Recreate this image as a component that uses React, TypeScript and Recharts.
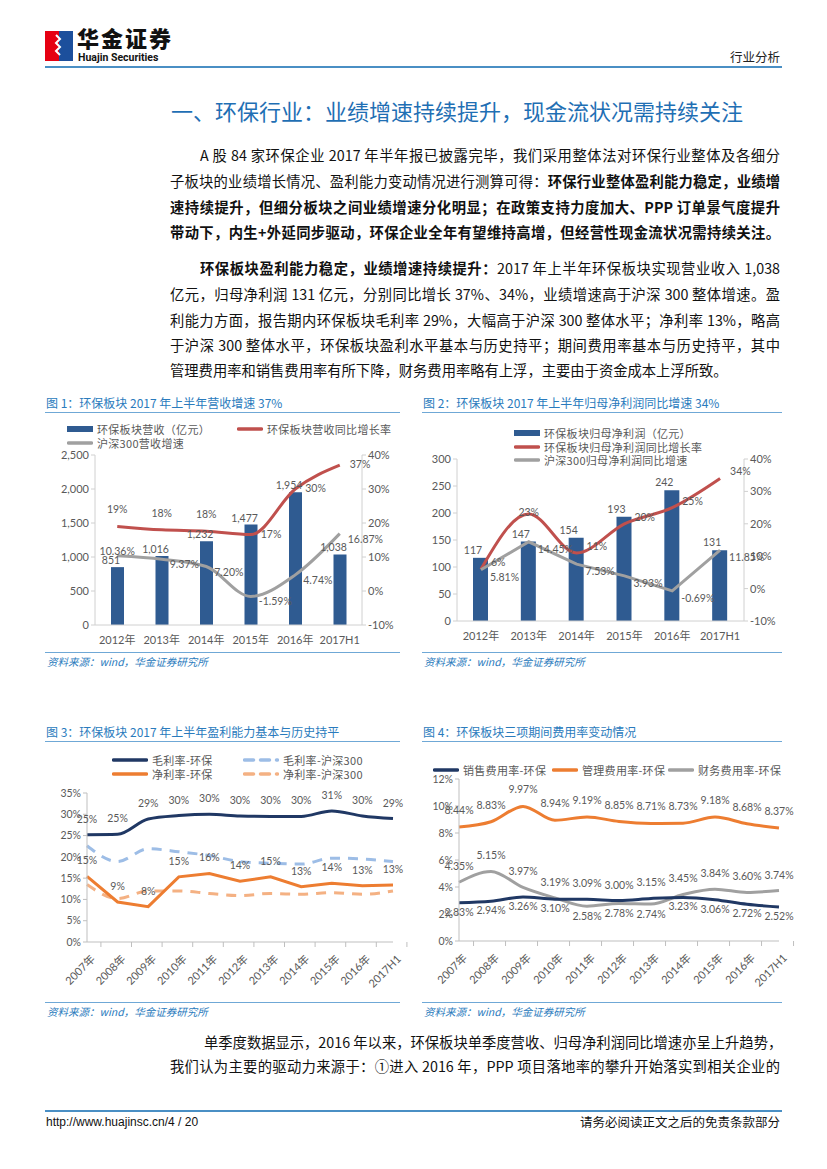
import React from 'react';
import { ComposedChart, LineChart, Bar, Line, XAxis, YAxis, LabelList } from 'recharts';

// ---------- data ----------
const years1 = ['2012年', '2013年', '2014年', '2015年', '2016年', '2017H1'];
const revenue = [851, 1016, 1232, 1477, 1954, 1038];
const revenueGrowth = [19, 18, 17.6, 16.6, 30, 37];
const hs300RevenueGrowth = [10.36, 9.37, 7.2, -1.59, 4.74, 16.87];
const revTicks = [0, 500, 1000, 1500, 2000, 2500];
const pctTicks = [-10, 0, 10, 20, 30, 40];

const netProfit = [117, 147, 154, 193, 242, 131];
const netProfitGrowth = [6, 23, 11, 20, 25, 34];
const hs300ProfitGrowth = [5.81, 14.45, 7.53, 3.93, -0.69, 11.85];
const profitTicks = [0, 50, 100, 150, 200, 250, 300];

const years2 = ['2007年', '2008年', '2009年', '2010年', '2011年', '2012年', '2013年', '2014年', '2015年', '2016年', '2017H1'];
const grossEP = [25.2, 25.3, 28.9, 29.7, 30.0, 29.6, 29.5, 29.5, 30.8, 29.6, 29.0];
const grossHS = [22.6, 18.9, 21.9, 21.2, 20.3, 18.9, 18.5, 18.3, 19.7, 19.5, 18.9];
const netEP = [15.4, 9.4, 8.3, 15.3, 16.1, 14.3, 15.3, 13.0, 13.8, 13.2, 13.4];
const netHS = [13.5, 10.2, 12.0, 12.0, 11.4, 10.9, 11.4, 11.2, 11.6, 11.2, 12.0];
const marginTicks = [0, 5, 10, 15, 20, 25, 30, 35];

const sellingRate = [2.83, 2.94, 3.26, 3.10, 3.09, 3.00, 3.15, 3.23, 3.06, 2.72, 2.52];
const adminRate = [8.44, 8.83, 9.97, 8.94, 9.19, 8.85, 8.71, 8.73, 9.18, 8.68, 8.37];
const financeRate = [4.35, 5.15, 3.97, 3.19, 2.58, 2.78, 2.74, 3.45, 3.84, 3.60, 3.74];
const expenseTicks = [0, 2, 4, 6, 8, 10, 12];

const data1 = years1.map((year, i) => ({ year, rev: revenue[i], g: revenueGrowth[i], hs: hs300RevenueGrowth[i] }));
const data2 = years1.map((year, i) => ({ year, np: netProfit[i], g: netProfitGrowth[i], hs: hs300ProfitGrowth[i] }));
const data3 = years2.map((year, i) => ({ year, ge: grossEP[i], gh: grossHS[i], ne: netEP[i], nh: netHS[i] }));
const data4 = years2.map((year, i) => ({ year, s: sellingRate[i], a: adminRate[i], f: financeRate[i] }));

// ---------- styles ----------
const CJK = "'Noto Sans CJK SC', sans-serif";
const CF = "Lato, 'Noto Sans CJK SC', sans-serif";
const GREY_TXT = '#595959';
const AXIS = '#d0d0d0';
const TICK = { fill: GREY_TXT, fontSize: 11, fontFamily: CF };
const TICK_S = { fill: GREY_TXT, fontSize: 10.5, fontFamily: CF };
const BLUE = '#2a7bbd';
const BAR = '#2f5b91';
const RED = '#c0504d';
const GREY = '#a0a0a0';
const NAVY = '#203864';
const ORANGE = '#ed7d31';
const LBLUE = '#9dbde6';
const LORANGE = '#f4b183';

type Place = 'top' | 'bottom' | 'right' | 'center';

const mkLabel = (fmt: (v: number) => string, place: (i: number) => Place, opts: any = {}) => (props: any) => {
  const vb = props.viewBox || {};
  const x = props.x ?? vb.x;
  const y = props.y ?? vb.y;
  const i = props.index;
  if (x == null || y == null) return null;
  const p = place(i);
  let dx = 0, dy = 0, anchor: any = 'middle';
  if (p === 'top') dy = opts.top ?? -11;
  else if (p === 'bottom') dy = opts.bottom ?? 15;
  else if (p === 'center') dy = opts.center ?? 4;
  else { dx = opts.rdx ?? 8; dy = opts.rdy ?? 7; anchor = 'start'; }
  return (
    <text x={x + dx} y={y + dy} textAnchor={anchor} fill={GREY_TXT} fontSize={opts.fs ?? 10.5} fontFamily={CF}>
      {fmt(props.value)}
    </text>
  );
};

const pct0 = (v: number) => `${Math.round(v)}%`;
const pct2 = (v: number) => `${v.toFixed(2)}%`;

const RotTick = (half: number) => (props: any) => {
  const { x, y, payload } = props;
  return (
    <g transform={`translate(${x},${y})`}>
      <line x1={half} x2={half} y1={0} y2={5} stroke="#bfbfbf" />
      <text x={0} y={0} transform="translate(6,15) rotate(-45)" textAnchor="end" dy="0.35em" fill={GREY_TXT} fontSize={11} fontFamily={CF}>
        {payload.value}
      </text>
    </g>
  );
};

// ---------- page helpers ----------
const abs = (left: number, top: number, extra: any = {}) => ({ position: 'absolute' as const, left, top, ...extra });

const TextLine = ({ top, left = 170, right = 780, justify = true, children }: any) => (
  <div
    style={abs(left, top - 10, {
      width: right - left,
      height: 20,
      lineHeight: '20px',
      fontSize: 14.3,
      fontFamily: CJK,
      color: '#111',
      whiteSpace: 'nowrap',
      textAlign: justify ? 'justify' : 'left',
      textAlignLast: justify ? 'justify' : 'left',
    })}
  >
    {children}
  </div>
);

const B = ({ children }: any) => <b style={{ fontWeight: 700 }}>{children}</b>;

const LegendItem = ({ left, top, color, label, kind, w = 26, dashed = false }: any) => (
  <div style={abs(left, top - 7, { height: 14, display: 'flex', alignItems: 'center', whiteSpace: 'nowrap' })}>
    <svg width={w} height={8} style={{ marginRight: 4 }}>
      {kind === 'bar' ? (
        <rect x={0} y={1} width={w} height={6} fill={color} />
      ) : (
        <line x1={1.5} x2={w - 1.5} y1={4} y2={4} stroke={color} strokeWidth={3.5} strokeLinecap="round" strokeDasharray={dashed ? '9 7' : undefined} />
      )}
    </svg>
    <span style={{ fontSize: 11, fontFamily: CJK, color: GREY_TXT, letterSpacing: 0.3 }}>{label}</span>
  </div>
);

const FigFrame = ({ left, width, titleTop, title, sourceTop }: any) => (
  <>
    <div style={abs(left + 1, titleTop - 9, { fontSize: 12, fontFamily: CJK, color: BLUE, whiteSpace: 'nowrap', lineHeight: '18px' })}>{title}</div>
    <div style={abs(left, titleTop + 9, { width, height: 1, background: '#6fa8d6' })} />
    <div style={abs(left, sourceTop - 10, { width, height: 1, background: '#6fa8d6' })} />
    <div style={abs(left + 2, sourceTop - 8, { fontSize: 10.5, fontFamily: CJK, color: BLUE, fontStyle: 'italic', whiteSpace: 'nowrap', lineHeight: '16px' })}>
      资料来源：wind，华金证券研究所
    </div>
  </>
);

export default function App() {
  const plot3W = 306;
  const plot4W = 320;
  return (
    <div style={{ position: 'absolute', left: 0, top: 0, width: 827, height: 1169, background: '#fff', overflow: 'hidden' }}>
      {/* header */}
      <svg style={abs(45, 31)} width={28} height={30}>
        <rect x={0} y={0} width={14} height={30} fill="#e60012" />
        <rect x={14} y={0} width={14} height={30} fill="#1c4f9c" />
        <polyline points="11,4 15,8 11,12 15,16 11,20 15,24" fill="none" stroke="#fff" strokeWidth={2} />
      </svg>
      <div style={abs(77, 25, { fontSize: 22, fontWeight: 900, fontFamily: CJK, color: '#111', letterSpacing: 2, lineHeight: '25px' })}>华金证券</div>
      <div style={abs(78, 52, { fontSize: 10.5, fontWeight: 700, fontFamily: 'Roboto, sans-serif', color: '#111', lineHeight: '12px' })}>Huajin Securities</div>
      <div style={abs(700, 49, { width: 80, textAlign: 'right', fontSize: 12.5, fontFamily: CJK, color: '#222', lineHeight: '16px' })}>行业分析</div>
      <div style={abs(45, 66, { width: 737, height: 2, background: '#4a8fc4' })} />

      {/* section title */}
      <div style={abs(171, 95, { fontSize: 22, fontFamily: CJK, color: '#1f6fb4', whiteSpace: 'nowrap', lineHeight: '30px' })}>
        一、环保行业：业绩增速持续提升，现金流状况需持续关注
      </div>

      {/* paragraph 1 */}
      <TextLine top={155} left={200}>A 股 84 家环保企业 2017 年半年报已披露完毕，我们采用整体法对环保行业整体及各细分</TextLine>
      <TextLine top={181}>子板块的业绩增长情况、盈利能力变动情况进行测算可得：<B>环保行业整体盈利能力稳定，业绩增</B></TextLine>
      <TextLine top={207}><B>速持续提升，但细分板块之间业绩增速分化明显；在政策支持力度加大、PPP 订单景气度提升</B></TextLine>
      <TextLine top={232}><B>带动下，内生+外延同步驱动，环保企业全年有望维持高增，但经营性现金流状况需持续关注。</B></TextLine>

      {/* paragraph 2 */}
      <TextLine top={268} left={200}><B>环保板块盈利能力稳定，业绩增速持续提升：</B>2017 年上半年环保板块实现营业收入 1,038</TextLine>
      <TextLine top={294}>亿元，归母净利润 131 亿元，分别同比增长 37%、34%，业绩增速高于沪深 300 整体增速。盈</TextLine>
      <TextLine top={320}>利能力方面，报告期内环保板块毛利率 29%，大幅高于沪深 300 整体水平；净利率 13%，略高</TextLine>
      <TextLine top={345}>于沪深 300 整体水平，环保板块盈利水平基本与历史持平；期间费用率基本与历史持平，其中</TextLine>
      <TextLine top={370} justify={false}>管理费用率和销售费用率有所下降，财务费用率略有上浮，主要由于资金成本上浮所致。</TextLine>

      {/* ---------- Figure 1 ---------- */}
      <FigFrame left={45} width={355} titleTop={403} title="图 1：环保板块 2017 年上半年营收增速 37%" sourceTop={662} />
      <LegendItem left={67} top={429} color={BAR} kind="bar" label="环保板块营收（亿元）" />
      <LegendItem left={237} top={429} color={RED} kind="line" label="环保板块营收同比增长率" />
      <LegendItem left={67} top={443} color={GREY} kind="line" label="沪深300营收增速" />
      <div style={abs(45, 440)}>
        <ComposedChart width={355} height={210} data={data1} margin={{ top: 15, right: 0, bottom: 5, left: 10 }}>
          <XAxis dataKey="year" tick={TICK} tickLine={false} axisLine={{ stroke: AXIS }} height={20} interval={0} tickMargin={5} />
          <YAxis yAxisId="l" domain={[0, 2500]} ticks={revTicks} tickFormatter={(v: number) => v.toLocaleString('en-US')} width={40} tick={TICK} axisLine={{ stroke: AXIS }} tickLine={{ stroke: AXIS }} tickSize={4} interval={0} />
          <YAxis yAxisId="r" orientation="right" domain={[-10, 40]} ticks={pctTicks} tickFormatter={(v: number) => `${v}%`} width={38} tick={TICK} axisLine={{ stroke: AXIS }} tickLine={{ stroke: AXIS }} tickSize={4} interval={0} />
          <Bar yAxisId="l" dataKey="rev" fill={BAR} barSize={13} isAnimationActive={false}>
            <LabelList dataKey="rev" content={mkLabel((v) => v.toLocaleString('en-US'), () => 'top', { top: -3 })} />
          </Bar>
          <Line yAxisId="r" dataKey="g" type="monotone" stroke={RED} strokeWidth={3} dot={false} isAnimationActive={false}>
            <LabelList
              dataKey="g"
              content={mkLabel(pct0, (i) => (i === revenueGrowth.length - 1 || revenueGrowth[i + 1] - revenueGrowth[i] > 5 ? 'right' : 'top'), { top: -13, rdx: 10, rdy: 3 })}
            />
          </Line>
          <Line yAxisId="r" dataKey="hs" type="monotone" stroke={GREY} strokeWidth={3} dot={false} isAnimationActive={false}>
            <LabelList dataKey="hs" content={mkLabel(pct2, (i) => (i === 0 ? 'center' : 'right'), { center: -1, rdx: 8, rdy: 9 })} />
          </Line>
        </ComposedChart>
      </div>

      {/* ---------- Figure 2 ---------- */}
      <FigFrame left={422} width={360} titleTop={403} title="图 2：环保板块 2017 年上半年归母净利润同比增速 34%" sourceTop={662} />
      <LegendItem left={514} top={433} color={BAR} kind="bar" label="环保板块归母净利润（亿元）" />
      <LegendItem left={514} top={447} color={RED} kind="line" label="环保板块归母净利润同比增长率" />
      <LegendItem left={514} top={460} color={GREY} kind="line" label="沪深300归母净利润同比增速" />
      <div style={abs(422, 440)}>
        <ComposedChart width={370} height={206} data={data2} margin={{ top: 19, right: 10, bottom: 5, left: 5 }}>
          <XAxis dataKey="year" tick={TICK} tickLine={false} axisLine={{ stroke: AXIS }} height={20} interval={0} tickMargin={5} />
          <YAxis yAxisId="l" domain={[0, 300]} ticks={profitTicks} width={30} tick={TICK} axisLine={{ stroke: AXIS }} tickLine={{ stroke: AXIS }} tickSize={4} interval={0} />
          <YAxis yAxisId="r" orientation="right" domain={[-10, 40]} ticks={pctTicks} tickFormatter={(v: number) => `${v}%`} width={38} tick={TICK} axisLine={{ stroke: AXIS }} tickLine={{ stroke: AXIS }} tickSize={4} interval={0} />
          <Bar yAxisId="l" dataKey="np" fill={BAR} barSize={15} isAnimationActive={false}>
            <LabelList dataKey="np" content={mkLabel((v) => `${v}`, () => 'top', { top: -4 })} />
          </Bar>
          <Line yAxisId="r" dataKey="g" type="monotone" stroke={RED} strokeWidth={3} dot={false} isAnimationActive={false}>
            <LabelList
              dataKey="g"
              content={mkLabel(pct0, (i) => (i > 0 && i < netProfitGrowth.length - 1 && netProfitGrowth[i] > netProfitGrowth[i - 1] && netProfitGrowth[i] > netProfitGrowth[i + 1] ? 'center' : 'right'), { center: 2, rdx: 10, rdy: -3 })}
            />
          </Line>
          <Line yAxisId="r" dataKey="hs" type="linear" stroke={GREY} strokeWidth={3} dot={false} isAnimationActive={false}>
            <LabelList dataKey="hs" content={mkLabel(pct2, () => 'right', { rdx: 9, rdy: 11 })} />
          </Line>
        </ComposedChart>
      </div>

      {/* ---------- Figure 3 ---------- */}
      <FigFrame left={45} width={355} titleTop={732} title="图 3：环保板块 2017 年上半年盈利能力基本与历史持平" sourceTop={1012} />
      <LegendItem left={112} top={760} color={NAVY} kind="line" w={36} label="毛利率-环保" />
      <LegendItem left={243} top={760} color={LBLUE} kind="line" w={36} dashed label="毛利率-沪深300" />
      <LegendItem left={112} top={774} color={ORANGE} kind="line" w={36} label="净利率-环保" />
      <LegendItem left={243} top={774} color={LORANGE} kind="line" w={36} dashed label="净利率-沪深300" />
      <div style={abs(45, 780)}>
        <LineChart width={380} height={220} data={data3} margin={{ top: 13, right: 32, bottom: 3, left: 5 }}>
          <XAxis dataKey="year" tick={RotTick(plot3W / 22)} tickSize={0} tickMargin={0} axisLine={{ stroke: '#bfbfbf' }} height={55} interval={0} />
          <YAxis domain={[0, 35]} ticks={marginTicks} tickFormatter={(v: number) => `${v}%`} width={37} tick={TICK_S} axisLine={{ stroke: '#bfbfbf' }} tickLine={{ stroke: '#bfbfbf' }} tickSize={4} interval={0} />
          <Line dataKey="gh" type="monotone" stroke={LBLUE} strokeWidth={3} strokeDasharray="10 8" dot={false} isAnimationActive={false} />
          <Line dataKey="nh" type="monotone" stroke={LORANGE} strokeWidth={3} strokeDasharray="10 8" dot={false} isAnimationActive={false} />
          <Line dataKey="ge" type="monotone" stroke={NAVY} strokeWidth={3} dot={false} isAnimationActive={false}>
            <LabelList dataKey="ge" content={mkLabel(pct0, () => 'top', { top: -12 })} />
          </Line>
          <Line dataKey="ne" type="linear" stroke={ORANGE} strokeWidth={3} dot={false} isAnimationActive={false}>
            <LabelList dataKey="ne" content={mkLabel(pct0, () => 'top', { top: -12 })} />
          </Line>
        </LineChart>
      </div>

      {/* ---------- Figure 4 ---------- */}
      <FigFrame left={422} width={360} titleTop={732} title="图 4：环保板块三项期间费用率变动情况" sourceTop={1012} />
      <div style={abs(422, 765)}>
        <LineChart width={400} height={235} data={data4} margin={{ top: 14, right: 43, bottom: 4, left: 5 }}>
          <XAxis dataKey="year" tick={RotTick(plot4W / 22)} tickSize={0} tickMargin={0} axisLine={{ stroke: '#bfbfbf' }} height={55} interval={0} />
          <YAxis domain={[0, 12]} ticks={expenseTicks} tickFormatter={(v: number) => `${v}%`} width={32} tick={TICK_S} axisLine={{ stroke: '#bfbfbf' }} tickLine={{ stroke: '#bfbfbf' }} tickSize={4} interval={0} />
          <Line dataKey="a" type="monotone" stroke={ORANGE} strokeWidth={3} dot={false} isAnimationActive={false}>
            <LabelList dataKey="a" content={mkLabel(pct2, () => 'top', { top: -13 })} />
          </Line>
          <Line dataKey="f" type="monotone" stroke={GREY} strokeWidth={3} dot={false} isAnimationActive={false}>
            <LabelList dataKey="f" content={mkLabel(pct2, (i) => (financeRate[i] > sellingRate[i] ? 'top' : 'bottom'), { top: -12, bottom: 14 })} />
          </Line>
          <Line dataKey="s" type="monotone" stroke={NAVY} strokeWidth={3} dot={false} isAnimationActive={false}>
            <LabelList dataKey="s" content={mkLabel(pct2, (i) => (sellingRate[i] >= financeRate[i] ? 'top' : 'bottom'), { top: -12, bottom: 13 })} />
          </Line>
        </LineChart>
      </div>
      <LegendItem left={433} top={770} color={NAVY} kind="line" label="销售费用率-环保" />
      <LegendItem left={552} top={770} color={ORANGE} kind="line" label="管理费用率-环保" />
      <LegendItem left={668} top={770} color={GREY} kind="line" label="财务费用率-环保" />

      {/* closing text */}
      <TextLine top={1042} left={204}>单季度数据显示，2016 年以来，环保板块单季度营收、归母净利润同比增速亦呈上升趋势，</TextLine>
      <TextLine top={1066}>我们认为主要的驱动力来源于：①进入 2016 年，PPP 项目落地率的攀升开始落实到相关企业的</TextLine>

      {/* footer */}
      <div style={abs(45, 1110, { width: 737, height: 2, background: '#4a8fc4' })} />
      <div style={abs(46, 1114, { fontSize: 12, fontFamily: "'Liberation Sans', sans-serif", color: '#111', lineHeight: '16px' })}>http://www.huajinsc.cn/4 / 20</div>
      <div style={abs(560, 1114, { width: 220, textAlign: 'right', fontSize: 12.5, fontFamily: CJK, color: '#111', lineHeight: '16px' })}>请务必阅读正文之后的免责条款部分</div>
    </div>
  );
}
